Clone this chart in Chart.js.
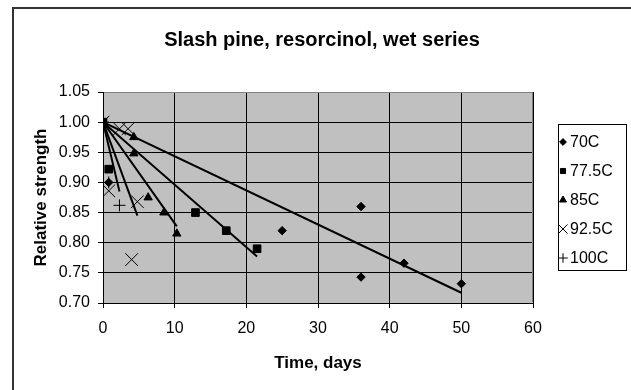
<!DOCTYPE html>
<html>
<head>
<meta charset="utf-8">
<script src="https://cdn.jsdelivr.net/npm/chart.js@4"></script>
<style>
  html, body { margin: 0; padding: 0; background: #fff; }
  #wrap { width: 631px; height: 390px; }
</style>
</head>
<body>
<div id="wrap"><canvas id="chart" width="631" height="390"></canvas></div>
<script>
const chartTitle = 'Slash pine, resorcinol, wet series';
const seriesLabels = ['70C', '77.5C', '85C', '92.5C', '100C'];
const seriesStyles = ['rectRot', 'rect', 'triangle', 'crossRot', 'cross'];

const days70 = [0, 0.8, 25, 36, 36, 42, 50];
const strength70 = [1.0, 0.90, 0.82, 0.86, 0.743, 0.766, 0.732];
const days775 = [0, 0.8, 12.9, 17.2, 21.5];
const strength775 = [1.0, 0.922, 0.85, 0.82, 0.79];
const days85 = [0, 4.3, 4.3, 6.3, 8.5, 10.3];
const strength85 = [1.0, 0.975, 0.948, 0.875, 0.85, 0.815];
const days925 = [0, 0.8, 2.3, 3.5, 4.0, 4.8];
const strength925 = [1.0, 0.886, 0.989, 0.989, 0.772, 0.868];
const days100 = [0, 0.8, 2.3];
const strength100 = [1.0, 0.90, 0.862];

// trend lines start at (0, 1) and end here
const trendEndDays = [50, 21.5, 10.3, 4.8, 2.3];
const trendEndStrength = [0.717, 0.777, 0.827, 0.845, 0.885];

const xMin = 0, xMax = 60, xStep = 10;
const yMin = 0.70, yMax = 1.05, yStep = 0.05;

const allDays = [days70, days775, days85, days925, days100];
const allStrength = [strength70, strength775, strength85, strength925, strength100];

const pointRadius = [4.2, 5.4, 4.8, 9, 6];
const legendRadius = [3.4, 3.6, 4, 6.4, 4.8];

const FONT = '"Liberation Sans", Arial, sans-serif';

function toPoints(xs, ys) {
    return xs.map((x, i) => ({ x: x, y: ys[i] }));
}

const datasets = [];
seriesLabels.forEach((label, i) => {
    datasets.push({
        label: label,
        data: toPoints(allDays[i], allStrength[i]),
        pointStyle: seriesStyles[i],
        pointRadius: pointRadius[i],
        pointHoverRadius: pointRadius[i],
        backgroundColor: '#000',
        borderColor: '#000',
        pointBorderWidth: 1,
        showLine: false
    });
});
seriesLabels.forEach((label, i) => {
    datasets.push({
        label: label + ' trend',
        data: [{ x: 0, y: 1.0 }, { x: trendEndDays[i], y: trendEndStrength[i] }],
        showLine: true,
        borderColor: '#000',
        borderWidth: 2,
        pointRadius: 0,
        fill: false
    });
});

const framePlugin = {
    id: 'frame',
    beforeDraw(chart) {
        const ctx = chart.ctx;
        const a = chart.chartArea;
        ctx.save();
        ctx.fillStyle = '#fff';
        ctx.fillRect(0, 0, chart.width, chart.height);
        ctx.strokeStyle = '#333';
        ctx.lineWidth = 2;
        ctx.beginPath();
        ctx.moveTo(13, chart.height + 2);
        ctx.lineTo(13, 8);
        ctx.lineTo(chart.width + 2, 8);
        ctx.stroke();
        ctx.fillStyle = '#c0c0c0';
        ctx.fillRect(a.left, a.top, a.right - a.left, a.bottom - a.top);
        ctx.fillStyle = '#000';
        ctx.font = 'bold 20px ' + FONT;
        ctx.textAlign = 'center';
        ctx.textBaseline = 'middle';
        ctx.fillText(chartTitle, 322, 40);
        ctx.restore();
    },
    beforeDatasetsDraw(chart) {
        const ctx = chart.ctx;
        const a = chart.chartArea;
        ctx.save();
        ctx.strokeStyle = '#808080';
        ctx.lineWidth = 1;
        ctx.beginPath();
        ctx.moveTo(a.left + 1, Math.round(a.top) + 0.5);
        ctx.lineTo(Math.round(a.right) - 0.5, Math.round(a.top) + 0.5);
        ctx.lineTo(Math.round(a.right) - 0.5, a.bottom - 1);
        ctx.stroke();
        ctx.restore();
    },
    afterDraw(chart) {
        const ctx = chart.ctx;
        const boxX = 558.5, boxY = 124.5, boxW = 68, boxH = 146;
        ctx.save();
        ctx.fillStyle = '#fff';
        ctx.fillRect(boxX, boxY, boxW, boxH);
        ctx.strokeStyle = '#000';
        ctx.lineWidth = 1;
        ctx.strokeRect(boxX, boxY, boxW, boxH);
        ctx.font = '16px ' + FONT;
        ctx.textBaseline = 'middle';
        ctx.textAlign = 'left';
        seriesLabels.forEach((label, i) => {
            const cy = 142 + i * 29;
            ctx.fillStyle = '#000';
            ctx.strokeStyle = '#000';
            ctx.lineWidth = 1;
            Chart.helpers.drawPoint(ctx, {
                pointStyle: seriesStyles[i],
                radius: legendRadius[i],
                rotation: 0,
                borderWidth: 1
            }, 563, cy);
            ctx.fillStyle = '#000';
            ctx.fillText(label, 570, cy + 1);
        });
        ctx.restore();
    }
};

new Chart(document.getElementById('chart'), {
    type: 'scatter',
    data: { datasets: datasets },
    options: {
        responsive: false,
        animation: false,
        events: [],
        layout: { padding: { left: 0, top: 92, right: 98, bottom: 0 } },
        plugins: {
            legend: { display: false },
            tooltip: { enabled: false },
            title: { display: false }
        },
        scales: {
            x: {
                type: 'linear',
                min: xMin,
                max: xMax,
                afterFit(scale) { scale.height = 87; },
                ticks: {
                    stepSize: xStep,
                    color: '#000',
                    padding: 11,
                    maxRotation: 0,
                    font: { family: FONT, size: 16 }
                },
                grid: { color: '#000', lineWidth: 1, tickLength: 5, drawTicks: true },
                border: { color: '#000', width: 1 },
                title: {
                    display: true,
                    text: 'Time, days',
                    color: '#000',
                    font: { family: FONT, size: 17, weight: 'bold' },
                    padding: { top: 0, bottom: 16 }
                }
            },
            y: {
                type: 'linear',
                min: yMin,
                max: yMax,
                afterFit(scale) { scale.width = 103; },
                ticks: {
                    stepSize: yStep,
                    color: '#000',
                    padding: 8,
                    font: { family: FONT, size: 16 },
                    callback: (v) => Number(v).toFixed(2)
                },
                grid: { color: '#000', lineWidth: 1, tickLength: 5, drawTicks: true },
                border: { color: '#000', width: 1 },
                title: {
                    display: true,
                    text: 'Relative strength',
                    color: '#000',
                    font: { family: FONT, size: 17, weight: 'bold' },
                    padding: { top: 31, bottom: 0 }
                }
            }
        }
    },
    plugins: [framePlugin]
});
</script>
</body>
</html>
